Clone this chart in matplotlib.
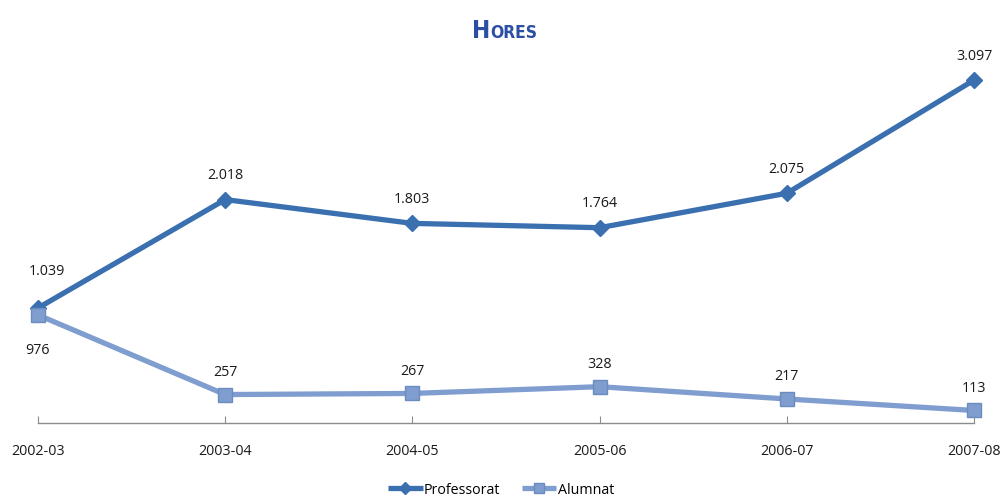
import matplotlib
matplotlib.use("Agg")
import matplotlib.pyplot as plt
from matplotlib.transforms import offset_copy

categories = ["2002-03", "2003-04", "2004-05", "2005-06", "2006-07", "2007-08"]
professorat = [1039, 2018, 1803, 1764, 2075, 3097]
alumnat = [976, 257, 267, 328, 217, 113]
series_names = ["Professorat", "Alumnat"]

def fmt(v):
    return f"{v:,}".replace(",", ".")

plt.rcParams['font.family'] = ['Open Sans', 'DejaVu Sans']

W, H = 1001, 497
fig = plt.figure(figsize=(W / 100, H / 100), dpi=100)
ax = fig.add_axes([38 / W, (H - 423) / H, (974 - 38) / W, (423 - 35.5) / H])

c1 = "#3a6fb0"
c2 = "#7f9ecf"
x = list(range(len(categories)))
ax.plot(x, professorat, color=c1, lw=3.8, marker="D", ms=8.5, mfc=c1, mec=c1,
        label=series_names[0], solid_capstyle="butt", zorder=2, clip_on=False)
ax.plot(x, alumnat, color=c2, lw=3.8, marker="s", ms=10, mfc=c2, mec="#6c8cc0",
        label=series_names[1], solid_capstyle="butt", zorder=3, clip_on=False)

ax.set_xlim(0, len(categories) - 1)
ax.set_ylim(0, 3500)
ax.set_xticks(x)
ax.set_xticklabels(categories, fontsize=10.3, color="#1a1a1a")
ax.tick_params(axis="x", direction="in", length=5, color="#8c8c8c", pad=15)
ax.set_yticks([])
for s in ["left", "right", "top"]:
    ax.spines[s].set_visible(False)
ax.spines["bottom"].set_color("#8c8c8c")
ax.spines["bottom"].set_linewidth(1)

for i, v in enumerate(professorat):
    dx, dy = (9, 36) if i == 0 else (0, 24)
    tr = offset_copy(ax.transData, fig=fig, x=dx * 72 / 100, y=dy * 72 / 100, units="points")
    ax.text(i, v, fmt(v), transform=tr, ha="center", va="center", fontsize=10.3, color="#1a1a1a")
for i, v in enumerate(alumnat):
    dy = -36 if i == 0 else 22
    tr = offset_copy(ax.transData, fig=fig, x=0, y=dy * 72 / 100, units="points")
    ax.text(i, v, fmt(v), transform=tr, ha="center", va="center", fontsize=10.3, color="#1a1a1a")

# title in small caps, condensed
tc = "#2b4fa3"
tfam = ['DejaVu Sans']
fig.text(490 / W, 1 - 38 / H, "H", ha="right", va="baseline", fontsize=17.5, color=tc,
         family=tfam, fontweight="bold", fontstretch="condensed")
fig.text(490 / W, 1 - 38 / H, "ORES", ha="left", va="baseline", fontsize=12.5, color=tc,
         family=tfam, fontweight="bold", fontstretch="condensed")

fig.legend(loc="center", bbox_to_anchor=(501 / W, 1 - 490 / H), ncol=2, frameon=False,
           fontsize=10.3, handlelength=2.4, handletextpad=0.1, columnspacing=1.5, markerscale=0.75)

fig.savefig("out.png", dpi=100)
